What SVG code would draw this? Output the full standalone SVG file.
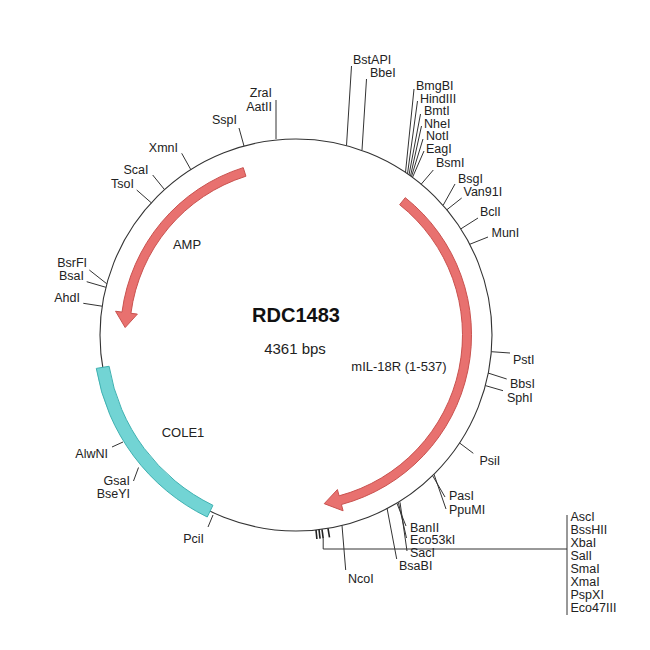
<svg xmlns="http://www.w3.org/2000/svg" width="650" height="650" viewBox="0 0 650 650">
<style>
.lbl{font-family:"Liberation Sans",Arial,sans-serif;font-size:12.5px;fill:#222}
.end{text-anchor:end}
.mid{text-anchor:middle}
.feat{font-family:"Liberation Sans",Arial,sans-serif;font-size:13px;fill:#222}
.tick{stroke:#333;stroke-width:1;fill:none}
.mark{stroke:#222;stroke-width:1.6;fill:none}
.arrow{fill:#e8716f;stroke:#c9524f;stroke-width:1}
.ori{fill:#72d4d4;stroke:#3fb1b1;stroke-width:1}
</style>
<rect width="650" height="650" fill="#fff"/>
<g id="backbone"><circle cx="296" cy="335" r="196" fill="none" stroke="#333" stroke-width="1.1"/></g>
<g id="title">
<text x="296" y="322" class="mid" style="font-family:'Liberation Sans',Arial,sans-serif;font-size:20px;font-weight:bold;fill:#111">RDC1483</text>
<text x="295" y="354" class="mid" style="font-family:'Liberation Sans',Arial,sans-serif;font-size:15px;fill:#222">4361 bps</text>
</g>
<g id="AMP">
<path class="arrow" d="M243.23,167.63 A175.5,175.5 0 0 0 122.0,312.09 L115.56,311.24 L125.16,327.54 L137.37,314.12 L130.93,313.27 A166.5,166.5 0 0 1 245.93,176.21 Z"/>
<text x="187" y="249" class="feat mid">AMP</text>
</g>
<g id="mIL-18R">
<path class="arrow" d="M405.25,197.65 A175.5,175.5 0 0 1 341.42,504.52 L343.10,510.80 L324.22,503.66 L337.41,489.55 L339.09,495.83 A166.5,166.5 0 0 0 399.65,204.70 Z"/>
<text x="399" y="371" class="feat mid">mIL-18R (1-537)</text>
</g>
<g id="COLE1">
<path class="ori" d="M96.28,368.42 A202.5,202.5 0 0 0 207.23,517.01 L212.93,505.32 A189.5,189.5 0 0 1 109.10,366.28 Z"/>
<text x="183" y="437" class="feat mid">COLE1</text>
</g>
<g id="connectors">
<line class="tick" x1="244" y1="146" x2="239" y2="128"/>
<line class="tick" x1="276" y1="139" x2="276" y2="100"/>
<line class="tick" x1="346.5" y1="145.5" x2="351.5" y2="66"/>
<line class="tick" x1="362" y1="150" x2="366.5" y2="79"/>
<line class="tick" x1="405.5" y1="172.4" x2="414" y2="89"/>
<line class="tick" x1="407.5" y1="173.8" x2="417.5" y2="101"/>
<line class="tick" x1="409" y1="174.9" x2="420.5" y2="114"/>
<line class="tick" x1="410.5" y1="175.9" x2="421.5" y2="126"/>
<line class="tick" x1="411.5" y1="176.6" x2="423" y2="139"/>
<line class="tick" x1="412.5" y1="177.4" x2="424" y2="151"/>
<line class="tick" x1="421.2" y1="184.2" x2="433.3" y2="170"/>
<line class="tick" x1="443.3" y1="205" x2="455" y2="184"/>
<line class="tick" x1="446.8" y1="209.8" x2="461.7" y2="198"/>
<line class="tick" x1="460.8" y1="228.9" x2="478" y2="218"/>
<line class="tick" x1="469.7" y1="244.3" x2="488" y2="237"/>
<line class="tick" x1="491.3" y1="351.7" x2="510" y2="353"/>
<line class="tick" x1="488" y1="373" x2="506.7" y2="379"/>
<line class="tick" x1="485.4" y1="385.6" x2="503" y2="390.7"/>
<line class="tick" x1="459.6" y1="443" x2="473.3" y2="453.3"/>
<line class="tick" x1="432.5" y1="475.5" x2="445" y2="497"/>
<line class="tick" x1="434" y1="474.3" x2="446" y2="509"/>
<line class="tick" x1="397" y1="503.5" x2="406" y2="526"/>
<line class="tick" x1="398.5" y1="503" x2="406.5" y2="538"/>
<line class="tick" x1="400" y1="502.3" x2="407" y2="551"/>
<line class="tick" x1="387" y1="508" x2="396.7" y2="559"/>
<line class="tick" x1="342" y1="525.5" x2="345.7" y2="570"/>
<line class="mark" x1="316" y1="530" x2="316.9" y2="539"/>
<line class="mark" x1="319" y1="529.6" x2="320.1" y2="538.6"/>
<line class="mark" x1="322" y1="529.3" x2="323.2" y2="538.3"/>
<line class="mark" x1="328" y1="528.4" x2="329.5" y2="537.3"/>
<polyline class="tick" points="323.2,538.3 323.2,549 567,549"/>
<line class="tick" x1="567" y1="515" x2="567" y2="615"/>
<line class="tick" x1="213" y1="515" x2="208" y2="527"/>
<line class="tick" x1="138.5" y1="467.5" x2="133.5" y2="481"/>
<line class="tick" x1="123" y1="442" x2="112" y2="447"/>
<line class="tick" x1="102.1" y1="306.2" x2="83.3" y2="303.3"/>
<line class="tick" x1="105.9" y1="287.3" x2="86.7" y2="281.7"/>
<line class="tick" x1="106.8" y1="283.8" x2="89.3" y2="270"/>
<line class="tick" x1="151.3" y1="202.8" x2="136.7" y2="190"/>
<line class="tick" x1="164.5" y1="189.6" x2="152.7" y2="175"/>
<line class="tick" x1="190.8" y1="169.6" x2="181.7" y2="153.3"/>
</g>
<g id="sites-top">
<text x="237" y="124" class="lbl end">SspI</text>
<text x="272" y="97" class="lbl end">ZraI</text>
<text x="272" y="111" class="lbl end">AatII</text>
<text x="353" y="64" class="lbl">BstAPI</text>
<text x="370" y="77" class="lbl">BbeI</text>
<text x="416" y="90" class="lbl">BmgBI</text>
<text x="420" y="102.5" class="lbl">HindIII</text>
<text x="424" y="115" class="lbl">BmtI</text>
<text x="424" y="127.5" class="lbl">NheI</text>
<text x="426" y="140" class="lbl">NotI</text>
<text x="426" y="152.5" class="lbl">EagI</text>
<text x="436" y="167" class="lbl">BsmI</text>
<text x="458" y="182.5" class="lbl">BsgI</text>
<text x="463.5" y="196" class="lbl">Van91I</text>
<text x="480" y="215.5" class="lbl">BclI</text>
<text x="491.5" y="237" class="lbl">MunI</text>
</g>
<g id="sites-right">
<text x="513" y="364" class="lbl">PstI</text>
<text x="510" y="388" class="lbl">BbsI</text>
<text x="507" y="401.5" class="lbl">SphI</text>
<text x="479.5" y="465" class="lbl">PsiI</text>
<text x="449" y="500" class="lbl">PasI</text>
<text x="449" y="513.5" class="lbl">PpuMI</text>
</g>
<g id="sites-bottom">
<text x="410" y="531.5" class="lbl">BanII</text>
<text x="410" y="544" class="lbl">Eco53kI</text>
<text x="410" y="557" class="lbl">SacI</text>
<text x="399" y="569.5" class="lbl">BsaBI</text>
<text x="348" y="583" class="lbl">NcoI</text>
<text x="570.5" y="521" class="lbl">AscI</text>
<text x="570.5" y="534" class="lbl">BssHII</text>
<text x="570.5" y="547" class="lbl">XbaI</text>
<text x="570.5" y="560" class="lbl">SalI</text>
<text x="570.5" y="573" class="lbl">SmaI</text>
<text x="570.5" y="586" class="lbl">XmaI</text>
<text x="570.5" y="599" class="lbl">PspXI</text>
<text x="570.5" y="612" class="lbl">Eco47III</text>
</g>
<g id="sites-left">
<text x="204" y="543" class="lbl end">PciI</text>
<text x="130" y="485" class="lbl end">GsaI</text>
<text x="130" y="498" class="lbl end">BseYI</text>
<text x="108" y="458" class="lbl end">AlwNI</text>
<text x="80" y="301.5" class="lbl end">AhdI</text>
<text x="84" y="280" class="lbl end">BsaI</text>
<text x="87" y="267" class="lbl end">BsrFI</text>
<text x="134" y="188" class="lbl end">TsoI</text>
<text x="148.5" y="173.5" class="lbl end">ScaI</text>
<text x="178" y="151.5" class="lbl end">XmnI</text>
</g>
</svg>
